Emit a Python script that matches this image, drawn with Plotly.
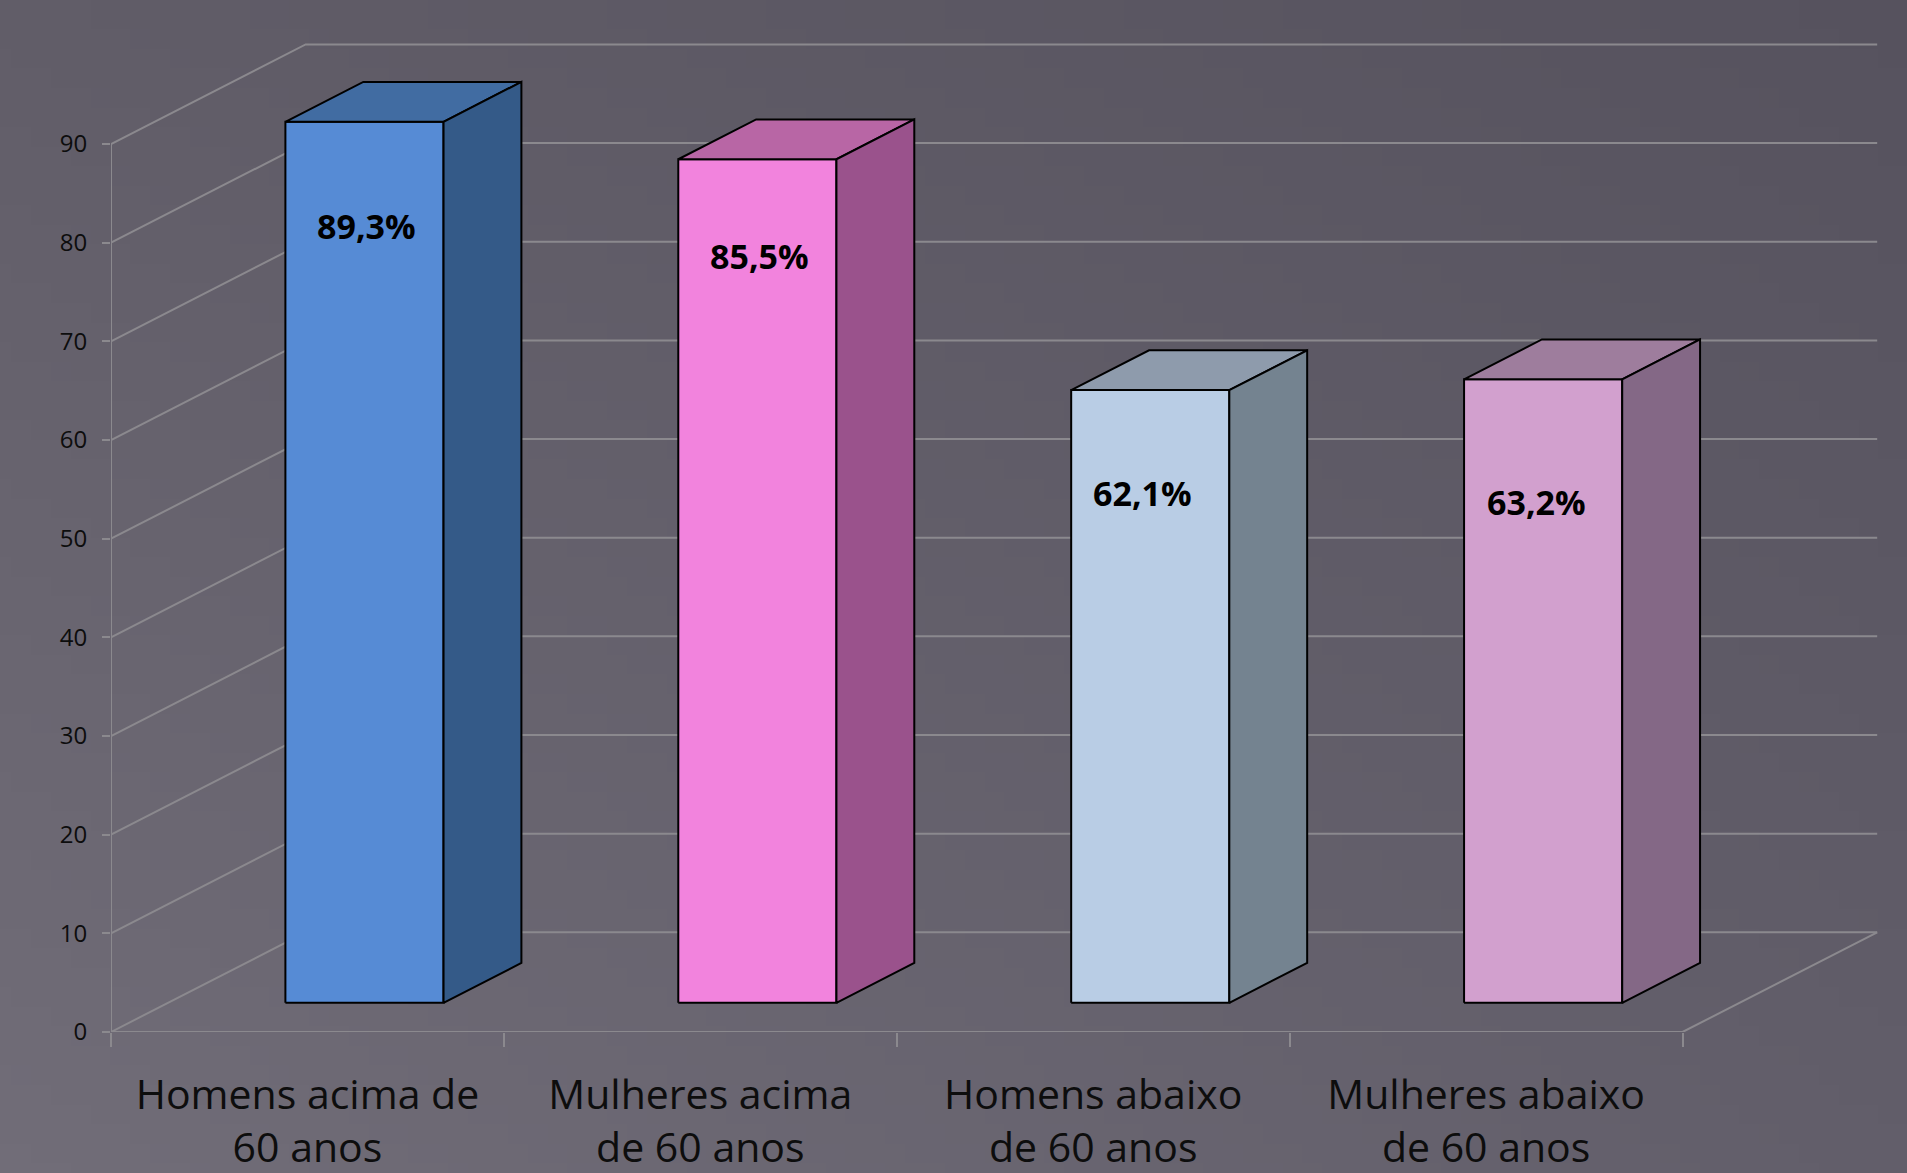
import base64
import struct
import zlib

import plotly.graph_objects as go

# ---------------- data ----------------
categories = [
    "Homens acima de<br>60 anos",
    "Mulheres acima<br>de 60 anos",
    "Homens abaixo<br>de 60 anos",
    "Mulheres abaixo<br>de 60 anos",
]
values = [89.3, 85.5, 62.1, 63.2]
value_labels = ["89,3%", "85,5%", "62,1%", "63,2%"]
y_ticks = [0, 10, 20, 30, 40, 50, 60, 70, 80, 90]

# ---------------- style ----------------
front_colors = ["#568BD5", "#F283DD", "#B9CDE5", "#D2A0CE"]
top_colors = ["#416CA2", "#B866A5", "#8E9BAC", "#9E7D9D"]
side_colors = ["#345A88", "#9A528C", "#748390", "#846886"]
label_xshift_px = [2, 2, -8, -7]
label_yshift_px = [0, 8, 2, -18]
GRID = "#8b898e"
TEXT = "#0d0d0d"
FONT = "Open Sans"

W, H = 1907, 1173
ML, MR, MT, MB = 111, 28, 5, 141
PX_PER_UNIT = 9.866
X_RANGE = [0, 4.5]
Y_RANGE = [0, (H - MT - MB) / PX_PER_UNIT]

# 3D projection (depth offsets in axis units)
DX = 0.4954
DY = 10.1
F0, F1 = 0.293, 0.693      # bar front / back depth fraction
BW = 0.4025                # bar width as fraction of category
LABEL_DROP = 10.6          # label offset below bar top (value units)

n = len(categories)


# ---------------- background gradient image ----------------
def make_png(w, h, func):
    rows = []
    for j in range(h):
        row = bytearray([0])
        for i in range(w):
            row.extend(func(i / (w - 1), j / (h - 1)))
        rows.append(bytes(row))
    raw = b"".join(rows)

    def chunk(tag, data):
        c = struct.pack(">I", len(data)) + tag + data
        return c + struct.pack(">I", zlib.crc32(tag + data) & 0xFFFFFFFF)

    png = b"\x89PNG\r\n\x1a\n"
    png += chunk(b"IHDR", struct.pack(">IIBBBBB", w, h, 8, 2, 0, 0, 0))
    png += chunk(b"IDAT", zlib.compress(raw, 9))
    png += chunk(b"IEND", b"")
    return png


tl, tr, bl, br = (97, 93, 104), (86, 82, 94), (113, 109, 120), (98, 94, 106)


def grad(u, v):
    return bytes(
        int(round((1 - u) * (1 - v) * tl[k] + u * (1 - v) * tr[k] + (1 - u) * v * bl[k] + u * v * br[k]))
        for k in range(3)
    )


bg_src = "data:image/png;base64," + base64.b64encode(make_png(96, 60, grad)).decode()

fig = go.Figure()

# ---------------- walls / gridlines ----------------
gx, gy = [], []
for v in y_ticks:
    gx += [0, DX, n + DX, None]
    gy += [v, v + DY, v + DY, None]
# front floor edge and right floor edge
gx += [0, n, n + DX, None]
gy += [0, 0, DY, None]
# front vertical axis line
gx += [0, 0, None]
gy += [0, max(y_ticks), None]
fig.add_trace(go.Scatter(x=gx, y=gy, mode="lines", line=dict(color=GRID, width=2),
                         hoverinfo="skip", showlegend=False))

# ---------------- 3D bars ----------------
dxs = (F1 - F0) * DX
dys = (F1 - F0) * DY
for i, v in enumerate(values):
    cx = i + 0.5
    x0 = cx - BW / 2 + F0 * DX
    x1 = cx + BW / 2 + F0 * DX
    yb = F0 * DY
    yt = v + F0 * DY
    faces = [
        ([x0, x1, x1, x0, x0], [yb, yb, yt, yt, yb], front_colors[i]),
        ([x0, x1, x1 + dxs, x0 + dxs, x0], [yt, yt, yt + dys, yt + dys, yt], top_colors[i]),
        ([x1, x1 + dxs, x1 + dxs, x1, x1], [yb, yb + dys, yt + dys, yt, yb], side_colors[i]),
    ]
    for fx, fy, col in faces:
        fig.add_trace(go.Scatter(x=fx, y=fy, mode="lines", fill="toself", fillcolor=col,
                                 line=dict(color="#000000", width=2), hoverinfo="skip",
                                 showlegend=False))
    fig.add_annotation(x=cx + F0 * DX, y=yt - LABEL_DROP, text="<b>%s</b>" % value_labels[i],
                       showarrow=False, xanchor="center", yanchor="middle",
                       xshift=label_xshift_px[i], yshift=label_yshift_px[i],
                       font=dict(family=FONT, size=34, color="#000000"))

fig.update_layout(
    width=W, height=H,
    margin=dict(l=ML, r=MR, t=MT, b=MB, pad=0),
    paper_bgcolor="#67636e",
    plot_bgcolor="rgba(0,0,0,0)",
    showlegend=False,
    images=[dict(source=bg_src, xref="paper", yref="paper",
                 x=-ML / (W - ML - MR), y=1 + MT / (H - MT - MB),
                 sizex=W / (W - ML - MR), sizey=H / (H - MT - MB),
                 sizing="stretch", xanchor="left", yanchor="top", layer="below")],
    xaxis=dict(range=X_RANGE, showgrid=False, zeroline=False, showline=False,
               tickmode="array", tickvals=[i + 0.5 for i in range(n)], ticktext=categories,
               ticks="", ticklabelstandoff=35, automargin=False,
               tickfont=dict(family=FONT, size=41, color=TEXT),
               minor=dict(tickmode="array", tickvals=list(range(n + 1)), ticks="outside",
                          ticklen=14, tickwidth=2, tickcolor=GRID, showgrid=False),
               fixedrange=True),
    yaxis=dict(range=Y_RANGE, showgrid=False, zeroline=False, showline=False,
               tickmode="array", tickvals=y_ticks, ticks="outside", ticklen=8, tickwidth=2,
               tickcolor=GRID, ticklabelstandoff=10, automargin=False,
               tickfont=dict(family=FONT, size=24, color=TEXT), fixedrange=True),
)

fig.write_html("out.html", config={"displayModeBar": False},
               post_script="document.body.style.margin='0';document.body.style.overflow='hidden';")
